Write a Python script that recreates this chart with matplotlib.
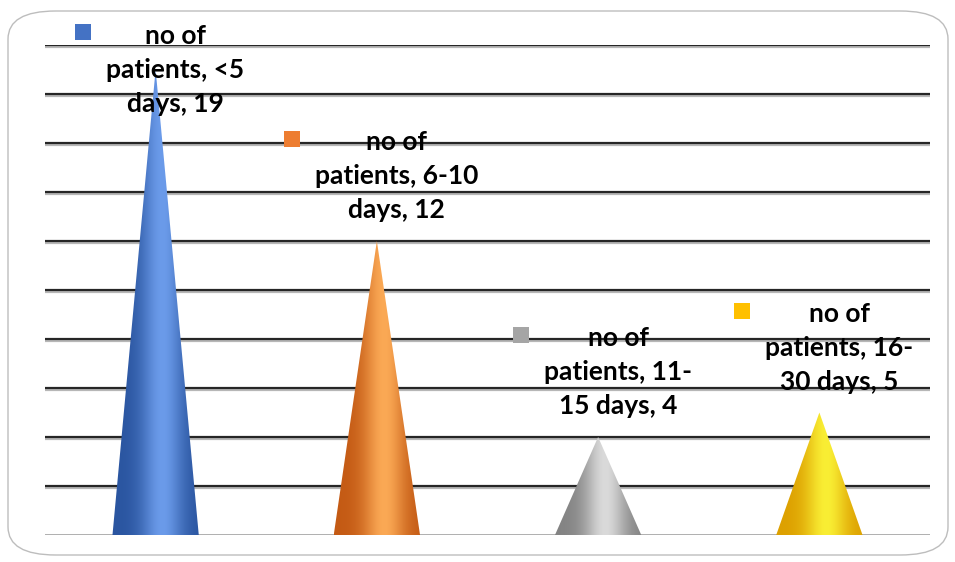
import numpy as np
import matplotlib.pyplot as plt
from matplotlib.patches import Polygon, FancyBboxPatch
from matplotlib.colors import to_rgb
import matplotlib.patheffects as pe

plt.rcParams['font.family'] = ['Lato', 'DejaVu Sans']

# data
categories = ["<5 days", "6-10 days", "11-15 days", "16-30 days"]
label_texts = ["no of\npatients, <5\ndays, 19",
               "no of\npatients, 6-10\ndays, 12",
               "no of\npatients, 11-\n15 days, 4",
               "no of\npatients, 16-\n30 days, 5"]
patients = [19, 12, 4, 5]

# cone shading: (edge colour, highlight colour, legend key colour)
shades = [("#2A55A0", "#6B9BEA", "#4472C4"),
          ("#C45A14", "#FBA955", "#ED7D31"),
          ("#838383", "#DADADA", "#A5A5A5"),
          ("#DDA000", "#F9EE34", "#FFC000")]

CONE_WIDTH = 0.39
Y_MAX = 20


def shade_strip(dark, light, n=200):
    t = np.linspace(0, 1, n)
    k = np.exp(-((t - 0.58) / 0.24) ** 2)
    d = np.array(to_rgb(dark))
    l = np.array(to_rgb(light))
    row = d[None, :] * (1 - k[:, None]) + l[None, :] * k[:, None]
    return row[None, :, :]


fig = plt.figure(figsize=(9.55, 5.62), dpi=100)
fig.patches.append(FancyBboxPatch((8 / 955, 7 / 562), 940 / 955, 544 / 562,
                                  boxstyle="round,pad=0,rounding_size=0.05",
                                  transform=fig.transFigure, facecolor="none",
                                  edgecolor="#BDBDBD", linewidth=1.0, zorder=-1))

ax = fig.add_axes([45 / 955, 27 / 562, 885 / 955, 490 / 562])
ax.set_facecolor("none")

# gridlines
for gy in range(2, Y_MAX + 1, 2):
    ax.axhline(gy, color="#262626", linewidth=1.6, zorder=1,
               path_effects=[pe.SimpleLineShadow(offset=(0, -1.2), shadow_color="#888888", alpha=0.6),
                             pe.Normal()])
ax.axhline(0, color="#A8A8A8", linewidth=2.0, zorder=1)

for i, (v, (dark, light, _)) in enumerate(zip(patients, shades)):
    x0, x1 = i - CONE_WIDTH / 2, i + CONE_WIDTH / 2
    cone = Polygon([[x0, 0], [x1, 0], [i, v]], closed=True,
                   facecolor="none", edgecolor="none", transform=ax.transData)
    ax.add_patch(cone)
    im = ax.imshow(shade_strip(dark, light), extent=[x0, x1, 0, v],
                   aspect="auto", interpolation="bilinear", zorder=2)
    im.set_clip_path(cone)

ax.set_xlim(-0.5, len(patients) - 0.5)
ax.set_ylim(0, Y_MAX)
ax.set_xticks([])
ax.set_yticks([])
for s in ax.spines.values():
    s.set_visible(False)

# data labels with legend keys
texts = []
for i, (v, txt) in enumerate(zip(patients, label_texts)):
    ly = min(v + 2.65, 19.0)
    t = ax.text(i + 0.09, ly, txt, ha="center", va="center", fontsize=19,
                fontweight="bold", color="black", linespacing=1.5, zorder=5)
    texts.append(t)

fig.canvas.draw()
renderer = fig.canvas.get_renderer()
inv = ax.transData.inverted()
for t, (_, _, key) in zip(texts, shades):
    bb = t.get_window_extent(renderer)
    kx, ky = inv.transform((bb.x0 - 23, bb.y1 - 9))
    ax.plot(kx, ky, marker="s", markersize=11.5, color=key,
            markeredgewidth=0, zorder=6, clip_on=False)

fig.savefig("out.png", dpi=100)
